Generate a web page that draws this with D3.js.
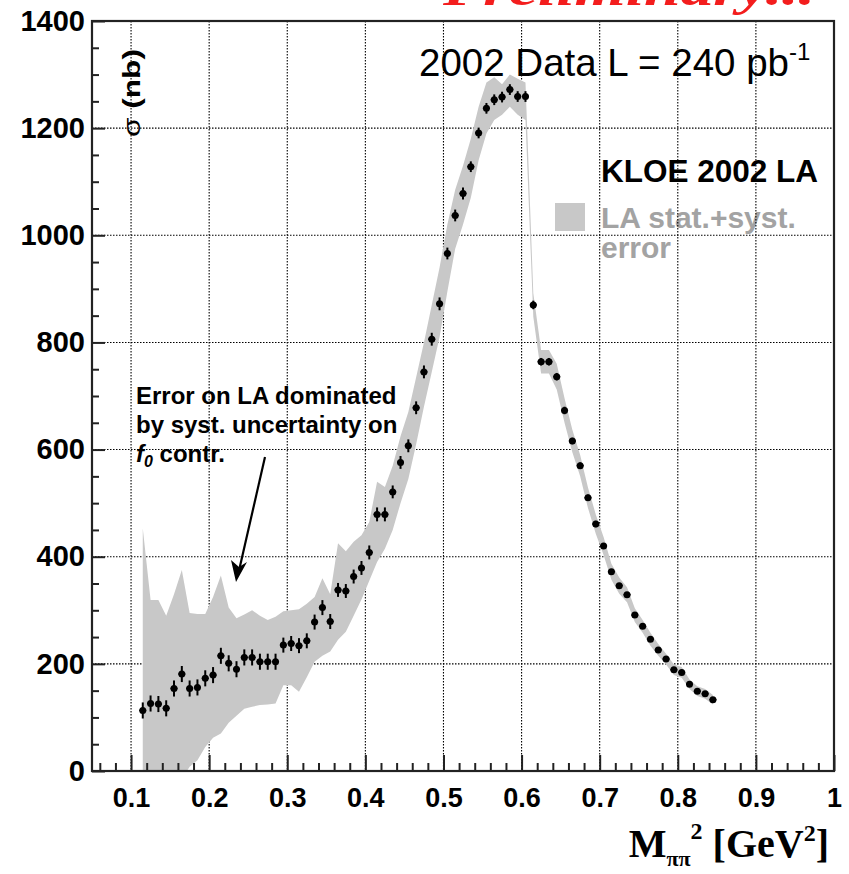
<!DOCTYPE html>
<html>
<head>
<meta charset="utf-8">
<script src="https://cdn.jsdelivr.net/npm/d3@7"></script>
<style>
  body { margin: 0; background: #fff; }
  svg text { font-family: "Liberation Sans", Arial, sans-serif; }
</style>
</head>
<body>
<div id="chart"></div>
<script>
// bin centres, GeV^2
var mass = [0.115, 0.125, 0.135, 0.145, 0.155, 0.165, 0.175, 0.185, 0.195, 0.205,
  0.215, 0.225, 0.235, 0.245, 0.255, 0.265, 0.275, 0.285, 0.295, 0.305,
  0.315, 0.325, 0.335, 0.345, 0.355, 0.365, 0.375, 0.385, 0.395, 0.405,
  0.415, 0.425, 0.435, 0.445, 0.455, 0.465, 0.475, 0.485, 0.495, 0.505,
  0.515, 0.525, 0.535, 0.545, 0.555, 0.565, 0.575, 0.585, 0.595, 0.605,
  0.615, 0.625, 0.635, 0.645, 0.655, 0.665, 0.675, 0.685, 0.695, 0.705,
  0.715, 0.725, 0.735, 0.745, 0.755, 0.765, 0.775, 0.785, 0.795, 0.805,
  0.815, 0.825, 0.835, 0.845]

// sigma (nb), 2002 data
var sigma = [113, 126, 125, 117, 154, 181, 154, 156, 173, 179,
  215, 201, 190, 212, 212, 204, 204, 204, 235, 238,
  234, 243, 278, 305, 279, 338, 336, 363, 379, 408,
  479, 479, 521, 576, 607, 678, 745, 806, 872, 966,
  1037, 1078, 1128, 1191, 1237, 1253, 1258, 1272, 1259, 1259,
  870, 764, 764, 736, 673, 616, 570, 510, 461, 420,
  372, 346, 329, 291, 270, 246, 226, 209, 189, 184,
  162, 149, 144, 133]

var statErr = [15, 15, 15, 15, 15, 15, 15, 15, 15, 15,
  15, 15, 15, 15, 15, 15, 15, 15, 14, 14,
  14, 14, 14, 14, 14, 13, 13, 13, 13, 13,
  13, 13, 12, 12, 12, 12, 12, 12, 12, 11,
  11, 11, 10, 10, 10, 10, 10, 10, 10, 10,
  8, 7, 7, 7, 7, 6, 6, 6, 6, 5,
  5, 5, 5, 5, 5, 4, 4, 4, 4, 4,
  4, 4, 4, 4]

// LA stat.+syst. band
var bandLow = [-227, -67, -69, -48, -22, -15, 8, 20, 45, 62,
  70, 90, 103, 116, 120, 123, 124, 126, 160, 160,
  148, 175, 204, 215, 223, 245, 260, 290, 320, 355,
  390, 415, 450, 500, 545, 610, 680, 745, 810, 895,
  975, 1020, 1070, 1140, 1190, 1215, 1225, 1240, 1225, 1215,
  848, 742, 742, 712, 650, 595, 550, 491, 443, 403,
  357, 331, 315, 278, 258, 234, 215, 199, 179, 174,
  153, 140, 135, 124]

var bandHigh = [453, 319, 319, 290, 330, 375, 295, 293, 293, 325,
  365, 305, 285, 292, 300, 290, 282, 288, 298, 300,
  302, 312, 325, 360, 330, 425, 410, 428, 440, 465,
  540, 530, 570, 625, 670, 735, 800, 870, 940, 1020,
  1085, 1130, 1180, 1240, 1285, 1295, 1282, 1300, 1292, 1285,
  892, 786, 786, 760, 696, 637, 590, 529, 479, 437,
  387, 361, 343, 304, 282, 258, 237, 219, 199, 194,
  171, 158, 153, 142]

var xMajor = [0.1, 0.2, 0.3, 0.4, 0.5, 0.6, 0.7, 0.8, 0.9, 1]
var yMajor = [0, 200, 400, 600, 800, 1000, 1200, 1400]

var W = 849, H = 874
var pl = 92, pr = 834, pt = 21, pb = 771

var svg = d3.select('#chart').append('svg')
  .attr('width', W).attr('height', H)

var x = d3.scaleLinear().domain([0.05, 1]).range([pl, pr])
var y = d3.scaleLinear().domain([0, 1400]).range([pb, pt])

var data = mass.map((m, i) => ({m, v: sigma[i], e: statErr[i], lo: bandLow[i], hi: bandHigh[i]}))

svg.append('clipPath').attr('id', 'plotclip')
  .append('rect').attr('x', pl).attr('y', pt)
  .attr('width', pr - pl).attr('height', pb - pt)

// red header, mostly cut off by the page top
svg.append('text')
  .attr('x', 443).attr('y', 5)
  .attr('textLength', 372).attr('lengthAdjust', 'spacingAndGlyphs')
  .style('font-family', '"Liberation Serif", serif')
  .style('font-style', 'italic').style('font-weight', 'bold')
  .style('font-size', '48px').attr('fill', '#f31d1d')
  .text('Preliminary...')

// texts sit under the grid in the original
var lumi = svg.append('text').attr('x', 419).attr('y', 76)
  .style('font-size', '38.5px').attr('fill', '#000')
lumi.append('tspan').text('2002 Data L = 240 pb')
lumi.append('tspan').attr('dy', -16).style('font-size', '24px').text('-1')

var ylab = svg.append('text')
  .attr('transform', 'translate(140,137) rotate(-90)')
  .attr('textLength', 88).attr('lengthAdjust', 'spacingAndGlyphs')
  .style('font-size', '24px').style('font-weight', 'bold')
ylab.append('tspan').style('font-weight', 'normal').text('σ')
ylab.append('tspan').text(' (nb)')

svg.append('text').attr('x', 601).attr('y', 182)
  .style('font-size', '31.5px').style('font-weight', 'bold')
  .text('KLOE 2002 LA')

svg.append('rect').attr('x', 555).attr('y', 203)
  .attr('width', 30).attr('height', 28).attr('fill', '#c8c8c8')

svg.append('text').attr('x', 601).attr('y', 228)
  .style('font-size', '30px').style('font-weight', 'bold').attr('fill', '#a3a3a3')
  .text('LA stat.+syst.')
svg.append('text').attr('x', 601).attr('y', 258)
  .style('font-size', '30px').style('font-weight', 'bold').attr('fill', '#a3a3a3')
  .text('error')

var note = svg.append('g').style('font-size', '24px').style('font-weight', 'bold')
note.append('text').attr('x', 136).attr('y', 404).text('Error on LA dominated')
note.append('text').attr('x', 136).attr('y', 433).text('by syst. uncertainty on')
var l3 = note.append('text').attr('x', 136).attr('y', 462)
l3.append('tspan').style('font-style', 'italic').text('f')
l3.append('tspan').attr('dy', 5).style('font-style', 'italic').style('font-size', '16px').text('0')
l3.append('tspan').attr('dy', -5).text(' contr.')

// arrow
svg.append('line')
  .attr('x1', 265).attr('y1', 457).attr('x2', 238).attr('y2', 575)
  .attr('stroke', '#000').attr('stroke-width', 2.2)
svg.append('path')
  .attr('d', 'M236,582 L231,560 L239,567 L247,562 Z')
  .attr('fill', '#000')

// grid
var grid = svg.append('g')
  .attr('stroke', '#000').attr('stroke-width', 1.1).attr('stroke-dasharray', '1.5,1.5')
grid.selectAll('line.v').data(xMajor.filter(d => d < 1)).join('line')
  .attr('class', 'v')
  .attr('x1', d => x(d)).attr('x2', d => x(d))
  .attr('y1', pt).attr('y2', pb)
grid.selectAll('line.h').data(yMajor.filter(d => d > 0 && d < 1400)).join('line')
  .attr('class', 'h')
  .attr('x1', pl).attr('x2', pr)
  .attr('y1', d => y(d)).attr('y2', d => y(d))

// band
var area = d3.area()
  .x(d => x(d.m))
  .y0(d => y(d.lo))
  .y1(d => y(d.hi))
svg.append('path').datum(data)
  .attr('clip-path', 'url(#plotclip)')
  .attr('d', area)
  .attr('fill', '#c8c8c8')

// points with error bars
var pts = svg.append('g').attr('clip-path', 'url(#plotclip)')
pts.selectAll('line.ey').data(data).join('line')
  .attr('class', 'ey')
  .attr('x1', d => x(d.m)).attr('x2', d => x(d.m))
  .attr('y1', d => y(d.v - d.e)).attr('y2', d => y(d.v + d.e))
  .attr('stroke', '#000').attr('stroke-width', 2)
pts.selectAll('line.ex').data(data).join('line')
  .attr('class', 'ex')
  .attr('x1', d => x(d.m - 0.0045)).attr('x2', d => x(d.m + 0.0045))
  .attr('y1', d => y(d.v)).attr('y2', d => y(d.v))
  .attr('stroke', '#000').attr('stroke-width', 1.5)
pts.selectAll('circle').data(data).join('circle')
  .attr('cx', d => x(d.m)).attr('cy', d => y(d.v))
  .attr('r', 3.5).attr('fill', '#000')

// axes
var minorX = d3.range(3, 50).map(d => d / 50).filter(d => Math.round(d * 50) % 5 != 0)
var minorY = d3.range(1, 28).map(d => d * 50).filter(d => d % 200 != 0)

var xAxis = svg.append('g').attr('transform', `translate(0,${pb})`)
  .call(d3.axisBottom(x).tickValues(xMajor).tickSize(-16).tickPadding(17)
    .tickFormat(d => d == 1 ? '1' : d.toFixed(1)))
svg.append('g').attr('transform', `translate(0,${pb})`)
  .call(d3.axisBottom(x).tickValues(minorX).tickSize(-8).tickFormat(''))
  .call(g => g.select('.domain').remove())

var yAxis = svg.append('g').attr('transform', `translate(${pl},0)`)
  .call(d3.axisLeft(y).tickValues(yMajor).tickSize(-13).tickPadding(7)
    .tickFormat(d3.format('d')))
svg.append('g').attr('transform', `translate(${pl},0)`)
  .call(d3.axisLeft(y).tickValues(minorY).tickSize(-7).tickFormat(''))
  .call(g => g.select('.domain').remove())

svg.selectAll('.tick line').attr('stroke', '#222').attr('stroke-width', 2)
xAxis.select('.domain').remove()
yAxis.select('.domain').remove()
xAxis.selectAll('.tick text')
  .style('font-size', '27px').style('font-weight', 'bold').attr('fill', '#000')
yAxis.selectAll('.tick text')
  .style('font-size', '29px').style('font-weight', 'bold').attr('fill', '#000')

// frame
svg.append('rect')
  .attr('x', pl).attr('y', pt)
  .attr('width', pr - pl).attr('height', pb - pt)
  .attr('fill', 'none').attr('stroke', '#222').attr('stroke-width', 2.2)

// x title
var xt = svg.append('text').attr('x', 829).attr('y', 857)
  .attr('text-anchor', 'end')
  .style('font-family', '"Liberation Serif", serif').style('font-weight', 'bold')
  .style('font-size', '40px')
xt.append('tspan').text('M')
xt.append('tspan').attr('dy', 9).style('font-size', '22px').text('ππ')
xt.append('tspan').attr('dy', -27).style('font-size', '24px').text('2')
xt.append('tspan').attr('dy', 18).text(' [GeV')
xt.append('tspan').attr('dy', -16).style('font-size', '24px').text('2')
xt.append('tspan').attr('dy', 16).text(']')
</script>
</body>
</html>
